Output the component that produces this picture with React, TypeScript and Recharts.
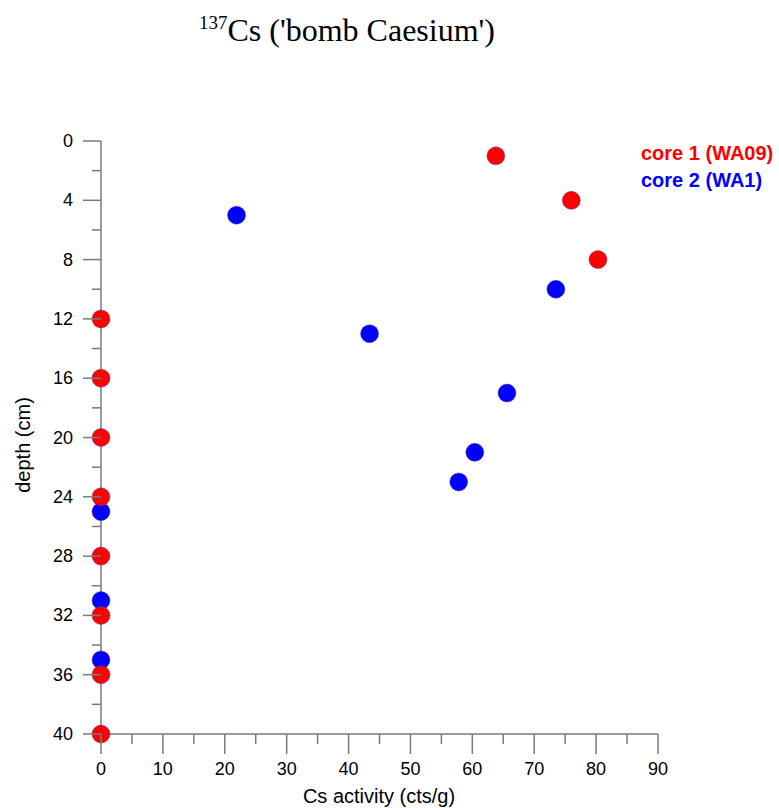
import { ScatterChart, Scatter, XAxis, YAxis } from "recharts";

const core1Depth = [1, 4, 8, 12, 16, 20, 24, 28, 32, 36, 40];
const core1Cs = [63.8, 76, 80.3, 0, 0, 0, 0, 0, 0, 0, 0];
const core2Depth = [5, 10, 13, 17, 21, 23, 25, 31, 35];
const core2Cs = [21.9, 73.5, 43.4, 65.6, 60.4, 57.8, 0, 0, 0];

const xTicks = [0, 5, 10, 15, 20, 25, 30, 35, 40, 45, 50, 55, 60, 65, 70, 75, 80, 85, 90];
const yTicks = [0, 2, 4, 6, 8, 10, 12, 14, 16, 18, 20, 22, 24, 26, 28, 30, 32, 34, 36, 38, 40];

const core1 = core1Depth.map((d, i) => ({ cs: core1Cs[i], depth: d }));
const core2 = core2Depth.map((d, i) => ({ cs: core2Cs[i], depth: d }));

const axisColor = "#7a7a7a";
const font = "Arial, 'Liberation Sans', sans-serif";

const XTick = (props: any) => {
  const { x, y, payload } = props;
  const major = payload.value % 10 === 0;
  return (
    <g>
      <line x1={x} x2={x} y1={y} y2={y + (major ? 20 : 10)} stroke={axisColor} strokeWidth={1.5} />
      {major && (
        <text x={x} y={y + 41} textAnchor="middle" fontSize={18} fontFamily={font} fill="#000">
          {payload.value}
        </text>
      )}
    </g>
  );
};

const YTick = (props: any) => {
  const { x, y, payload } = props;
  const major = payload.value % 4 === 0;
  return (
    <g>
      <line x1={x - (major ? 18 : 9)} x2={x} y1={y} y2={y} stroke={axisColor} strokeWidth={1.5} />
      {major && (
        <text x={x - 28} y={y + 6} textAnchor="end" fontSize={18} fontFamily={font} fill="#000">
          {payload.value}
        </text>
      )}
    </g>
  );
};

const Dot = (color: string) => (props: any) => (
  <circle cx={props.cx} cy={props.cy} r={9} fill={color} stroke="#5a3a8a" strokeWidth={0.5} />
);

export default function App() {
  return (
    <div style={{ position: "absolute", left: 0, top: 0, width: 779, height: 808, background: "#fff" }}>
      <div
        style={{
          position: "absolute",
          left: 0,
          width: 779,
          top: 12,
          textAlign: "center",
          paddingRight: 85,
          boxSizing: "border-box",
          fontFamily: "'Times New Roman', 'Liberation Serif', serif",
          fontSize: 32,
          whiteSpace: "nowrap",
        }}
      >
        <sup style={{ fontSize: 19 }}>137</sup>Cs ('bomb Caesium')
      </div>
      <div
        style={{
          position: "absolute",
          left: 641,
          top: 140,
          fontFamily: font,
          fontWeight: "bold",
          fontSize: 20,
          lineHeight: "27px",
          whiteSpace: "nowrap",
        }}
      >
        <div style={{ color: "#ff0000" }}>core 1 (WA09)</div>
        <div style={{ color: "#0000ff" }}>core 2 (WA1)</div>
      </div>
      <div
        style={{
          position: "absolute",
          left: 379,
          top: 785,
          transform: "translateX(-50%)",
          fontFamily: font,
          fontSize: 20,
          whiteSpace: "nowrap",
          lineHeight: "22px",
        }}
      >
        Cs activity (cts/g)
      </div>
      <div
        style={{
          position: "absolute",
          left: 23,
          top: 445,
          transform: "translate(-50%, -50%) rotate(-90deg)",
          fontFamily: font,
          fontSize: 20,
          whiteSpace: "nowrap",
          lineHeight: "22px",
        }}
      >
        depth (cm)
      </div>
      <ScatterChart
        width={779}
        height={808}
        margin={{ top: 141, right: 121, bottom: 34, left: 41 }}
        style={{ position: "absolute", left: 0, top: 0 }}
      >
        <XAxis
          type="number"
          dataKey="cs"
          domain={[0, 90]}
          ticks={xTicks}
          interval={0}
          height={40}
          tickSize={0}
          tickMargin={0}
          tickLine={false}
          tick={<XTick />}
          axisLine={{ stroke: axisColor, strokeWidth: 1.5 }}
        />
        <YAxis
          type="number"
          dataKey="depth"
          domain={[0, 40]}
          reversed
          ticks={yTicks}
          interval={0}
          width={60}
          tickSize={0}
          tickMargin={0}
          tickLine={false}
          tick={<YTick />}
          axisLine={{ stroke: axisColor, strokeWidth: 1.5 }}
        />
        <Scatter data={core2} shape={Dot("#0000ff")} isAnimationActive={false} />
        <Scatter data={core1} shape={Dot("#ff0000")} isAnimationActive={false} />
      </ScatterChart>
    </div>
  );
}
